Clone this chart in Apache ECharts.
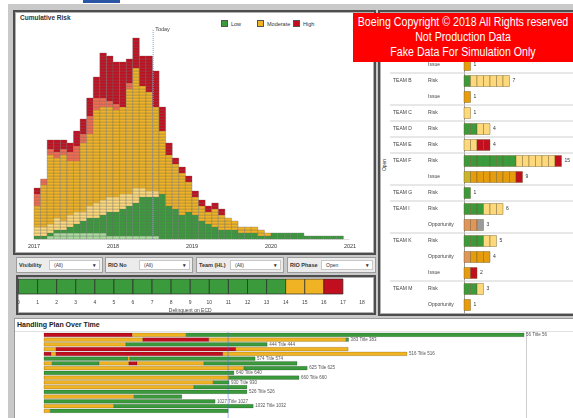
<!DOCTYPE html>
<html>
<head>
<meta charset="utf-8">
<script src="https://cdn.jsdelivr.net/npm/echarts@6/dist/echarts.min.js"></script>
<style>
body{margin:0;width:573px;height:418px;overflow:hidden;background:#fff;position:relative;font-family:"Liberation Sans",Arial,sans-serif;color:#333}
.a{position:absolute;box-sizing:border-box}
.panel{background:#fff;border:2px solid #4d4d4d;box-shadow:inset 0 0 0 1px #b0b0b0}
.flt{background:#ececec;border:1px solid #9c9c9c;height:16px;top:257px}
.flt .lb{position:absolute;left:2px;top:4px;font-size:5.5px;font-weight:bold;color:#333}
.flt .in{position:absolute;top:2px;height:10px;right:2px;background:#fff;border:1px solid #c8c8c8;font-size:5px;line-height:9px;padding-left:4px;box-sizing:border-box}
.flt .in b{position:absolute;right:3px;top:0;font-size:5px}
.lg{font-size:5.5px;color:#333;top:20px}
.lg i{display:inline-block;width:5px;height:5px;border:1px solid #555;vertical-align:-1px;margin-right:3px}
#red{left:353px;top:13px;width:220px;height:49px;background:#ff0000;color:#fff;font-size:12.5px;line-height:15px;padding-top:2px;z-index:5;white-space:nowrap;overflow:hidden}
#red span{display:block;width:300px;margin-left:-40px;text-align:center;transform:scaleX(0.85);transform-origin:50% 50%}
</style>
</head>
<body>
<div class="a" style="left:8px;top:4px;width:565px;height:414px;background:#c9c9c9"></div>
<div class="a" style="left:83px;top:0;width:37px;height:3px;background:#2b56a6"></div>

<div class="a panel" style="left:13px;top:10px;width:363px;height:245px"></div>
<div class="a" style="left:20px;top:14px;font-size:6.5px;font-weight:bold;color:#333">Cumulative Risk</div>
<div class="a lg" style="left:221px"><i style="background:#3b9a3c"></i>Low</div>
<div class="a lg" style="left:257px"><i style="background:#f0b323"></i>Moderate</div>
<div class="a lg" style="left:293px"><i style="background:#c20f1f"></i>High</div>

<div class="a panel" style="left:378px;top:10px;width:200px;height:306px"></div>
<div class="a" style="left:378px;top:162px;font-size:5px;transform:rotate(-90deg)">Open</div>

<div class="a flt" style="left:16px;width:87px"><span class="lb">Visibility</span><div class="in" style="left:32px">(All)<b>▾</b></div></div>
<div class="a flt" style="left:105px;width:88px"><span class="lb">RIO No</span><div class="in" style="left:33px">(All)<b>▾</b></div></div>
<div class="a flt" style="left:196px;width:88px"><span class="lb">Team (HL)</span><div class="in" style="left:33px">(All)<b>▾</b></div></div>
<div class="a flt" style="left:287px;width:89px"><span class="lb">RIO Phase</span><div class="in" style="left:33px">Open<b>▾</b></div></div>

<div class="a panel" style="left:16px;top:275px;width:360px;height:40px"></div>

<div class="a" style="left:14px;top:318px;width:565px;height:110px;background:#fff;border:1px solid #9a9a9a"></div>
<div class="a" style="left:17px;top:321px;font-size:7px;font-weight:bold;color:#222">Handling Plan Over Time</div>
<div class="a" style="left:15px;top:331px;width:560px;height:1px;background:#e2e2e2"></div>
<div class="a" style="left:526px;top:332px;width:1px;height:90px;background:#cfcfcf"></div>

<div id="red" class="a"><span>Boeing Copyright © 2018 All Rights reserved</span><span>Not Production Data</span><span>Fake Data For Simulation Only</span></div>

<div id="main" class="a" style="left:0;top:0;width:573px;height:418px;z-index:2"></div>

<script>
// cumulative risk, monthly counts from Jan 2017 (one block each)
const lightGreen = [0,0,1,2,2,2,2,2,2,2,2,1,1,1,1,1,1,1,1,0,0,0,0,0,0,0,0,0,0,0,0,0,0,0,0,0,0,0,0,0,0,0,0,0,0,0,0];
const green      = [1,1,1,1,1,2,3,4,5,5,6,8,8,9,10,11,13,13,13,15,11,10,8,9,8,6,5,4,3,3,3,2,2,2,1,1,2,2,2,2,2,1,1,1,1,1,1];
const pale       = [3,3,3,4,3,4,4,3,4,5,5,5,5,5,4,5,3,2,2,0,0,0,0,0,0,0,0,0,0,0,0,0,0,0,0,0,0,0,0,0,0,0,0,0,0,0,0];
const moderate   = [7,14,23,20,22,18,17,23,24,31,31,30,29,29,35,40,34,33,28,21,17,15,14,10,6,5,4,6,5,4,3,2,2,2,2,1,0,0,0,0,0,0,0,0,0,0,0];
const salmon     = [4,2,2,2,2,3,5,3,6,4,3,2,2,0,2,0,0,0,0,0,0,0,0,0,0,0,0,0,0,0,0,0,0,0,0,0,0,0,0,0,0,0,0,0,0,0,0];
const high       = [2,0,3,4,3,3,5,5,6,7,15,15,14,15,8,10,10,12,12,8,4,2,2,2,2,2,2,2,2,0,0,0,0,0,0,0,0,0,0,0,0,0,0,0,0,0,0];
const yearLabels = ['2017','2018','2019','2020','2021'];
const todayMonth = 18.1;

// open items per team
const teamNames = ['TEAM A','','','TEAM B','','TEAM C','TEAM D','TEAM E','TEAM F','','TEAM G','TEAM I','','TEAM K','','','TEAM M',''];
const rowTypes  = ['Risk','Opportunity','Issue','Risk','Issue','Risk','Risk','Risk','Risk','Issue','Risk','Risk','Opportunity','Risk','Opportunity','Issue','Risk','Opportunity'];
const tGreen  = [2,0,0,1,0,0,2,0,8,0,1,3,0,3,0,0,2,0];
const tOlive  = [0,0,0,0,0,0,0,0,0,1,0,0,0,0,0,0,0,0];
const tTan    = [0,1,0,0,0,0,0,0,0,0,0,0,2,0,1,0,0,0];
const tOrange = [0,1,1,0,1,0,0,0,0,7,0,0,0,0,3,1,0,1];
const tPale   = [3,0,0,6,0,1,2,2,6,0,0,3,0,2,0,0,1,0];
const tGray   = [0,0,0,0,0,0,0,0,0,0,0,0,1,0,0,0,0,0];
const tRed    = [1,0,0,0,0,0,0,2,1,1,0,0,0,0,0,1,0,0];

// delinquent on ECD
const delGreen = 14, delYellow = 2, delRed = 1;

// handling plan segments [from, to, colour] on a 0..100 timeline
const handlingSegs = [
  [[0,18.3,'r'],[18.3,29.5,'o'],[29.5,99.6,'g']],
  [[0,20.5,'o'],[20.5,34.2,'r'],[34.2,62.7,'o'],[62.7,63.2,'g']],
  [[0,17,'o'],[17,46.3,'g']],
  [[0,2.5,'o'],[2.5,39.8,'r'],[39.8,63.1,'o']],
  [[0,1.5,'r'],[1.5,2.5,'o'],[2.5,37.1,'r'],[37.1,75.3,'o']],
  [[0,17.4,'g'],[17.4,17.8,'o'],[17.8,43.8,'g']],
  [[0,1.7,'o'],[1.7,11.4,'g'],[11.4,17.6,'o'],[17.6,19.3,'r'],[19.3,33.2,'o'],[33.2,52.5,'g']],
  [[0,41.5,'o'],[41.5,54.6,'g']],
  [[0,39.4,'g']],
  [[0,38.4,'o'],[38.4,52.9,'g']],
  [[0,35.1,'o'],[35.1,38.4,'g']],
  [[0,31.1,'o'],[31.1,42.1,'g']],
  [[0,42.1,'g']],
  [[0,18.7,'o'],[18.7,28.6,'g']],
  [[0,35.5,'g']],
  [[0,14.5,'o'],[14.5,43.4,'g']],
  [[0,1.3,'o'],[1.3,38.2,'g']]
];
const handlingLabels = ['56 Title 56','383 Title 383','444 Title 444','','516 Title 516','574 Title 574','','625 Title 625','640 Title 640','660 Title 660','930 Title 930','','526 Title 526','','1027 Title 1027','1032 Title 1032',''];
const todayPlan = 38.2;

const C = {lg:'#a9dc9c', g:'#3b9a3c', pale:'#fdd97b', mod:'#f0b323', sal:'#f36b4f', red:'#c20f1f',
  orange:'#e59c0d', tan:'#df955b', olive:'#c9b52a', gray:'#9b9b9b'};
const FONT = '"Liberation Sans", Arial, sans-serif';

// vertical stack of unit blocks
function vBlocks(cols) {
  return function (params, api) {
    const x = api.value(0) + 0.5, w = api.size([1, 0])[0];
    const kids = [];
    let base = 0;
    cols.forEach(function (c, k) {
      const n = api.value(k + 1);
      for (let j = 0; j < n; j++) {
        const p0 = api.coord([x, base + j]), p1 = api.coord([x, base + j + 1]);
        kids.push({type: 'rect', shape: {x: p0[0] - w / 2, y: p1[1], width: w, height: p0[1] - p1[1]},
          style: {fill: c, stroke: 'rgba(105,105,105,0.55)', lineWidth: 0.6}});
      }
      base += n;
    });
    return {type: 'group', children: kids};
  };
}

// horizontal row of unit blocks
function hBlocks(cols, h, stroke, extra) {
  return function (params, api) {
    const row = api.value(0);
    const kids = [];
    let base = 0;
    cols.forEach(function (c, k) {
      const n = api.value(k + 1);
      for (let j = 0; j < n; j++) {
        const p0 = api.coord([base + j, row]), p1 = api.coord([base + j + 1, row]);
        kids.push({type: 'rect', shape: {x: p0[0], y: p0[1] - h / 2, width: p1[0] - p0[0], height: h},
          style: {fill: c, stroke: stroke, lineWidth: 0.7}});
      }
      base += n;
    });
    if (extra) extra(params, api, row, base, kids);
    return {type: 'group', children: kids};
  };
}

function teamExtra(params, api, row, total, kids) {
  const i = params.dataIndex;
  const y = api.coord([0, row])[1];
  if (total > 0) {
    const e = api.coord([total, row]);
    kids.push({type: 'text', style: {text: String(total), x: e[0] + 3, y: y, fill: '#333', fontSize: 5, fontFamily: FONT, verticalAlign: 'middle'}});
  }
  if (teamNames[i]) {
    kids.push({type: 'text', style: {text: teamNames[i], x: 393, y: y, fill: '#444', fontSize: 5, fontFamily: FONT, verticalAlign: 'middle'}});
    if (i > 0) kids.push({type: 'line', shape: {x1: 390, y1: y - 8, x2: 575, y2: y - 8}, style: {stroke: '#d0d0d0', lineWidth: 1}});
  }
  kids.push({type: 'text', style: {text: rowTypes[i], x: 428, y: y, fill: '#444', fontSize: 5, fontFamily: FONT, verticalAlign: 'middle'}});
}

const segColor = {r: C.red, o: C.mod, g: C.g};
function handlingItem(params, api) {
  const row = api.value(0);
  const segs = handlingSegs[params.dataIndex];
  const kids = [];
  let endX = 0;
  segs.forEach(function (s) {
    const a = api.coord([s[0], row]), b = api.coord([s[1], row]);
    kids.push({type: 'rect', shape: {x: a[0], y: a[1] - 1.8, width: b[0] - a[0], height: 3.6},
      style: {fill: segColor[s[2]], stroke: 'rgba(0,0,0,0.35)', lineWidth: 0.5}});
    endX = b[0];
  });
  const lab = handlingLabels[params.dataIndex];
  if (lab) kids.push({type: 'text', style: {text: lab, x: endX + 2, y: api.coord([0, row])[1], fill: '#555', fontSize: 4.5, fontFamily: FONT, verticalAlign: 'middle'}});
  return {type: 'group', children: kids};
}

const cumData = green.map(function (v, i) { return [i, lightGreen[i], green[i], pale[i], moderate[i], salmon[i], high[i]]; });
const teamData = teamNames.map(function (t, i) { return [i, tGreen[i], tOlive[i], tTan[i], tOrange[i], tPale[i], tGray[i], tRed[i]]; });
const planData = handlingSegs.map(function (s, i) { return [i]; });

const chart = echarts.init(document.getElementById('main'), null, {renderer: 'canvas'});
chart.setOption({
  animation: false,
  grid: [
    {left: 34, top: 29, width: 316, height: 210},
    {left: 464, top: 25, width: 104, height: 288},
    {left: 18.5, top: 279, width: 343.5, height: 15},
    {left: 44, top: 332.5, width: 482, height: 91.8}
  ],
  xAxis: [
    {gridIndex: 0, type: 'value', min: 0, max: 48, interval: 12,
      axisLabel: {fontSize: 5.5, color: '#333', margin: 4, fontFamily: FONT, formatter: function (v) { return yearLabels[v / 12]; }},
      axisLine: {lineStyle: {color: '#d8d8d8', type: 'dotted'}}, axisTick: {show: false}, splitLine: {show: false}},
    {gridIndex: 1, type: 'value', min: 0, max: 16, show: false},
    {gridIndex: 2, type: 'value', min: 0, max: 18, interval: 1,
      axisLabel: {fontSize: 5, color: '#444', margin: 6, fontFamily: FONT},
      axisLine: {show: false}, axisTick: {show: false}, splitLine: {show: false},
      name: 'Delinquent on ECD', nameLocation: 'middle', nameGap: 14, nameTextStyle: {fontSize: 5, color: '#444', fontFamily: FONT}},
    {gridIndex: 3, type: 'value', min: 0, max: 100, show: false}
  ],
  yAxis: [
    {gridIndex: 0, type: 'value', min: 0, max: 70, show: false},
    {gridIndex: 1, type: 'value', min: -0.5, max: 17.5, inverse: true,
      axisLine: {show: true, lineStyle: {color: '#999'}}, axisLabel: {show: false}, axisTick: {show: false}, splitLine: {show: false}},
    {gridIndex: 2, type: 'value', min: -0.5, max: 0.5, show: false},
    {gridIndex: 3, type: 'value', min: -0.5, max: 17.5, inverse: true, show: false}
  ],
  series: [
    {type: 'custom', xAxisIndex: 0, yAxisIndex: 0, renderItem: vBlocks([C.lg, C.g, C.pale, C.mod, C.sal, C.red]), data: cumData},
    {type: 'line', xAxisIndex: 0, yAxisIndex: 0, data: [[todayMonth, 0], [todayMonth, 70]], symbol: 'none',
      lineStyle: {color: '#7e9ad6', width: 1, type: 'dotted'},
      endLabel: {show: true, formatter: 'Today', fontSize: 5.5, color: '#444', distance: 2, fontFamily: FONT}},
    {type: 'custom', xAxisIndex: 1, yAxisIndex: 1, renderItem: hBlocks([C.g, C.olive, C.tan, C.orange, C.pale, C.gray, C.red], 11, 'rgba(110,90,40,0.6)', teamExtra), data: teamData},
    {type: 'custom', xAxisIndex: 2, yAxisIndex: 2, renderItem: hBlocks([C.g, C.mod, C.red], 15, '#2a2a2a'), data: [[0, delGreen, delYellow, delRed]]},
    {type: 'custom', xAxisIndex: 3, yAxisIndex: 3, renderItem: handlingItem, data: planData},
    {type: 'line', xAxisIndex: 3, yAxisIndex: 3, data: [[todayPlan, -0.5], [todayPlan, 17.5]], symbol: 'none',
      lineStyle: {color: '#3f6fc8', width: 1, type: 'dotted'}}
  ]
});
</script>
</body>
</html>
